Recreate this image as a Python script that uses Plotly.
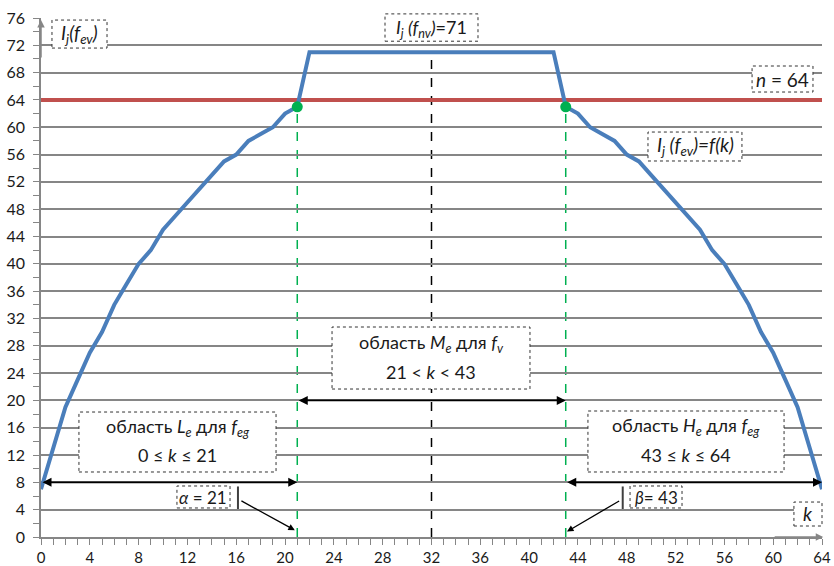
import plotly.graph_objects as go

# ---------------- data ----------------
k_values = list(range(65))
ij_values = [7, 13, 19, 23, 27, 30, 34, 37, 40, 42, 45, 47, 49, 51, 53, 55, 56, 58, 59, 60, 62, 63,
             71, 71, 71, 71, 71, 71, 71, 71, 71, 71, 71, 71, 71, 71, 71, 71, 71, 71, 71, 71, 71,
             63, 62, 60, 59, 58, 56, 55, 53, 51, 49, 47, 45, 42, 40, 37, 34, 30, 27, 23, 19, 13, 7]
n_level = 64
alpha_k = 21
beta_k = 43
mid_k = 32
plateau_level = 71
point_level = 63
x_ticks = list(range(0, 65, 4))
y_ticks = list(range(0, 77, 4))

X_MAX = 64
Y_MAX = 76

BLUE = "#4a7ebb"
RED = "#c0504d"
GREEN = "#00b050"
GRAY = "#868686"
TXT = "#1a1a1a"
FONT = "Lato"

fig = go.Figure()

fig.add_trace(go.Scatter(x=[0, X_MAX], y=[n_level, n_level], mode="lines",
                         line=dict(color=RED, width=4), hoverinfo="skip"))
fig.add_trace(go.Scatter(x=k_values, y=ij_values, mode="lines",
                         line=dict(color=BLUE, width=4), hoverinfo="skip"))

shapes = []
# dashed reference lines
shapes.append(dict(type="line", xref="x", yref="y", x0=mid_k, x1=mid_k, y0=0, y1=plateau_level,
                   line=dict(color="black", width=1.5, dash="dash"), layer="below"))
for kk in (alpha_k, beta_k):
    shapes.append(dict(type="line", xref="x", yref="y", x0=kk, x1=kk, y0=0, y1=point_level,
                       line=dict(color=GREEN, width=1.5, dash="dash"), layer="below"))

fig.add_trace(go.Scatter(x=[alpha_k, beta_k], y=[point_level, point_level], mode="markers",
                         marker=dict(color=GREEN, size=11), hoverinfo="skip", cliponaxis=False))


def px(k):
    return k / X_MAX


def py(v):
    return v / Y_MAX


def box(k0, k1, v0, v1):
    shapes.append(dict(type="rect", xref="paper", yref="paper",
                       x0=px(k0), x1=px(k1), y0=py(v0), y1=py(v1),
                       fillcolor="white", line=dict(color="#333333", width=1, dash="dot"),
                       layer="above"))


box(0.9, 5.41, 71.6, 75.7)       # I_j(f_ev)
box(28.19, 35.81, 72.6, 76.6)    # I_j(f_nv)=71
box(58.27, 63.26, 65.16, 68.97)  # n = 64
box(49.74, 57.44, 55.06, 59.3)   # I_j(f_ev)=f(k)
box(3.11, 19.26, 9.52, 18.3)     # L_e
box(23.85, 40.07, 21.67, 30.75)  # M_e
box(44.82, 60.89, 9.52, 18.45)   # H_e
box(11.14, 15.49, 4.25, 7.47)    # alpha
box(48.27, 52.53, 4.25, 7.47)    # beta
box(61.7, 64.0, 1.61, 5.12)      # k

# leader bars
for kk in (16.14, 47.67):
    shapes.append(dict(type="line", xref="x", yref="y", x0=kk, x1=kk, y0=4.1, y1=7.4,
                       line=dict(color="#404040", width=2), layer="above"))

annotations = []


def arrow(x, y, ax, ay, both=False, color="black", width=1.8, head=2, size=1.0):
    annotations.append(dict(x=x, y=y, ax=ax, ay=ay, xref="x", yref="y", axref="x", ayref="y",
                            text="", showarrow=True, arrowhead=head, startarrowhead=head,
                            arrowsize=size, startarrowsize=size, arrowwidth=width,
                            arrowcolor=color, arrowside="end+start" if both else "end",
                            standoff=0, startstandoff=0))


arrow(alpha_k, 8, 0, 8, both=True)
arrow(beta_k, 20, alpha_k, 20, both=True)
arrow(X_MAX, 8, beta_k, 8, both=True)
arrow(20.8, 1.0, 16.3, 5.4, width=1.3)
arrow(43.1, 0.8, 47.5, 5.4, width=1.3)
# axis arrows
arrow(0, 75.7, 0, 70, color=GRAY, width=1.5, head=2)
arrow(64.1, 0, 60, 0, color=GRAY, width=1.5, head=2)


def label(text, k, v, size=17):
    annotations.append(dict(x=px(k), y=py(v), xref="paper", yref="paper", text=text,
                            showarrow=False, xanchor="center", yanchor="middle",
                            font=dict(family=FONT, size=size, color=TXT)))


label("<i>I<sub>j</sub>(f<sub>ev</sub>)</i>", 3.15, 73.6, 19)
label("<i>I<sub>j</sub> (f<sub>nv</sub>)</i>=71", 32.0, 74.5, 18)
label("<i>n</i> = 64", 60.77, 67.0, 19)
label("<i>I<sub>j</sub> (f<sub>ev</sub>)=f(k)</i>", 53.6, 57.2, 19)
label("область <i>L<sub>e</sub></i> для <i>f<sub>eg</sub></i>", 11.19, 16.1, 18)
label("0 ≤ <i>k</i> ≤ 21", 11.19, 12.0, 18)
label("область <i>M<sub>e</sub></i> для <i>f<sub>v</sub></i>", 31.96, 28.36, 18)
label("21 &lt; <i>k</i> &lt; 43", 31.96, 24.2, 18)
label("область <i>H<sub>e</sub></i> для <i>f<sub>eg</sub></i>", 52.86, 16.15, 18)
label("43 ≤ <i>k</i> ≤ 64", 52.86, 12.0, 18)
label("<i>α</i> = 21", 13.3, 5.85, 17)
label("<i>β</i>= 43", 50.4, 5.85, 17)
label("<i>k</i>", 62.85, 3.4, 19)

fig.update_layout(
    width=834, height=566,
    margin=dict(l=41, r=12, t=18, b=29),
    paper_bgcolor="white", plot_bgcolor="white",
    showlegend=False,
    shapes=shapes, annotations=annotations,
    xaxis=dict(range=[0, X_MAX], tickvals=x_ticks, ticks="outside", ticklen=6, tickwidth=1.3,
               tickcolor=GRAY, showline=True, linecolor=GRAY, linewidth=1.5,
               showgrid=False, zeroline=False, automargin=False,
               minor=dict(dtick=1, ticks="outside", ticklen=6, tickcolor=GRAY, tickwidth=1.3,
                          showgrid=False),
               tickfont=dict(family=FONT, size=15, color=TXT), ticklabelstandoff=0),
    yaxis=dict(range=[0, Y_MAX], tickvals=y_ticks, ticks="outside", ticklen=6, tickwidth=1.3,
               tickcolor=GRAY, showline=True, linecolor=GRAY, linewidth=1.5,
               showgrid=True, gridcolor=GRAY, gridwidth=1.5, zeroline=False, automargin=False,
               minor=dict(dtick=2, ticks="outside", ticklen=6, tickcolor=GRAY, tickwidth=1.3,
                          showgrid=False),
               tickfont=dict(family=FONT, size=16, color=TXT), ticklabelstandoff=5),
)

fig.write_html("out.html", config={"displayModeBar": False},
               post_script="document.body.style.margin='0';document.body.style.overflow='hidden';")
